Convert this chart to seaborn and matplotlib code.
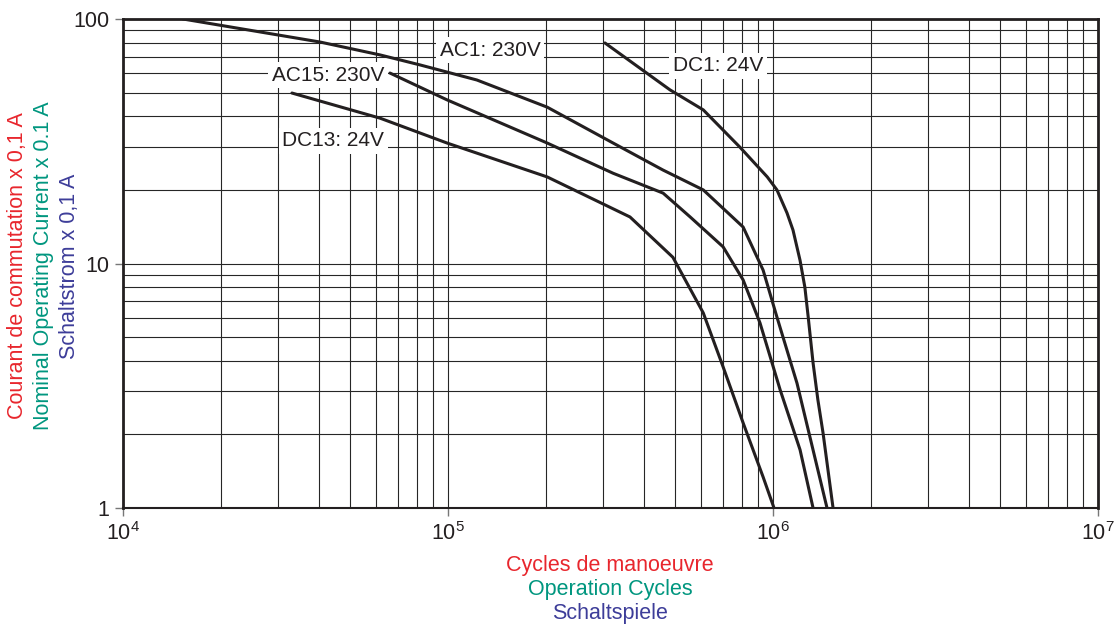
import numpy as np
import pandas as pd
import seaborn as sns
import matplotlib.pyplot as plt
from matplotlib.ticker import FixedLocator, NullFormatter

# curves (cycles, current x 0.1 A)
ac1_cycles = [15300, 40400, 61800, 82000, 122700, 201900, 322000, 459000,
              610000, 809000, 932000, 1028000, 1185000, 1466000]
ac1_current = [100, 80.5, 71.3, 64.9, 56.3, 43.6, 31.1, 24.1,
               20.0, 14.1, 9.4, 6.04, 3.24, 1.0]

ac15_cycles = [66300, 99300, 201900, 322000, 459000, 556000, 702000,
               809000, 912000, 1052000, 1211000, 1328000]
ac15_current = [60.1, 46.7, 31.1, 23.4, 19.4, 15.5, 11.7,
                8.57, 5.71, 3.04, 1.73, 1.0]

dc13_cycles = [33100, 61800, 99300, 201900, 363000, 492000, 610000,
               702000, 809000, 932000, 1007000]
dc13_current = [49.8, 39.3, 31.1, 22.6, 15.5, 10.6, 6.28,
                3.78, 2.23, 1.34, 1.0]

dc1_cycles = [304000, 482000, 610000, 791000, 960000, 1028000, 1104000,
              1152000, 1211000, 1253000, 1283000, 1328000, 1374000,
              1425000, 1530000]
dc1_current = [79.8, 51.3, 42.5, 29.9, 22.6, 20.0, 16.1,
               13.7, 10.3, 8.0, 6.04, 3.92, 2.77,
               2.03, 1.0]

curve_names = ['AC1: 230V', 'AC15: 230V', 'DC13: 24V', 'DC1: 24V']
curve_cycles = [ac1_cycles, ac15_cycles, dc13_cycles, dc1_cycles]
curve_current = [ac1_current, ac15_current, dc13_current, dc1_current]

# where the curve labels sit
label_x = [134600, 42800, 44300, 677000]
label_y = [74.6, 59.0, 31.7, 64.3]

x_ticks = [1e4, 1e5, 1e6, 1e7]
x_ticklabels = ['10$^4$', '10$^5$', '10$^6$', '10$^7$']
y_ticks = [1, 10, 100]
y_ticklabels = ['1', '10', '100']

ylabels = ['Courant de commutation x 0,1 A',
           'Nominal Operating Current x 0.1 A',
           'Schaltstrom x 0,1 A']
xlabels = ['Cycles de manoeuvre', 'Operation Cycles', 'Schaltspiele']
label_colors = ['#e8262d', '#00967f', '#3d3d99']

sns.set_theme(style='white')
plt.rcParams['font.family'] = ['Liberation Sans', 'DejaVu Sans']
plt.rcParams['mathtext.fontset'] = 'custom'
plt.rcParams['mathtext.rm'] = 'Liberation Sans'
plt.rcParams['mathtext.default'] = 'regular'

rows = []
for name, xs, ys in zip(curve_names, curve_cycles, curve_current):
    for x, y in zip(xs, ys):
        rows.append({'curve': name, 'cycles': x, 'current': y})
df = pd.DataFrame(rows)

fig = plt.figure(figsize=(11.15, 6.25), dpi=100)
ax = fig.add_axes([0.1103, 0.1872, 0.8745, 0.7824])

ax.set_xscale('log')
ax.set_yscale('log')
ax.set_xlim(1e4, 1e7)
ax.set_ylim(1, 100)

# grid: every 1..9 of each decade
minor_x = [m * 10 ** e for e in range(4, 7) for m in range(2, 10)]
minor_y = [m * 10 ** e for e in range(0, 2) for m in range(2, 10)]
for v in minor_x + x_ticks:
    ax.axvline(v, color='#262626', lw=0.8, zorder=1)
for v in minor_y + y_ticks:
    ax.axhline(v, color='#262626', lw=0.8, zorder=1)

sns.lineplot(data=df, x='cycles', y='current', units='curve', estimator=None,
             sort=False, color='#231f20', lw=2.2, ax=ax, zorder=3)

for name, lx, ly in zip(curve_names, label_x, label_y):
    ax.text(lx, ly, name, ha='center', va='center', fontsize=15, color='#231f20',
            zorder=4, bbox=dict(facecolor='white', edgecolor='none', pad=2.5))

ax.xaxis.set_major_locator(FixedLocator(x_ticks))
ax.xaxis.set_minor_locator(FixedLocator([]))
ax.yaxis.set_major_locator(FixedLocator(y_ticks))
ax.yaxis.set_minor_locator(FixedLocator([]))
ax.xaxis.set_minor_formatter(NullFormatter())
ax.yaxis.set_minor_formatter(NullFormatter())
ax.set_xticks(x_ticks, x_ticklabels)
ax.set_yticks(y_ticks, y_ticklabels)
ax.tick_params(axis='both', which='major', direction='out', length=6, width=1,
               color='#777777', labelsize=15.5, labelcolor='#231f20', pad=4,
               bottom=True, left=True)
ax.set_xlabel('')
ax.set_ylabel('')

for side in ['left', 'top', 'right']:
    ax.spines[side].set_linewidth(2)
    ax.spines[side].set_color('#231f20')
ax.spines['bottom'].set_linewidth(1.5)
ax.spines['bottom'].set_color('#231f20')

# stacked multilingual axis titles
for i, (txt, c) in enumerate(zip(ylabels, label_colors)):
    fig.text((18 + i * 26) / 1115, 1 - 266 / 625, txt, rotation=90,
             ha='center', va='center', color=c, fontsize=15.5)
for i, (txt, c) in enumerate(zip(xlabels, label_colors)):
    fig.text(610 / 1115, 1 - (566 + i * 24) / 625, txt, ha='center',
             va='center', color=c, fontsize=15.5)

fig.savefig('out.png', dpi=100)
plt.close()
